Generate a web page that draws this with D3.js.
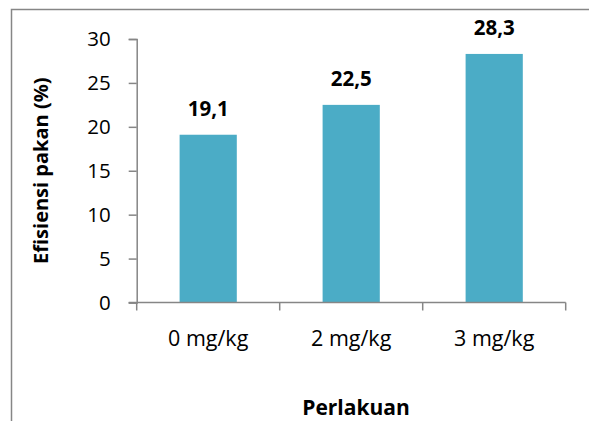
<!DOCTYPE html>
<html>
<head>
<meta charset="utf-8">
<script src="https://cdn.jsdelivr.net/npm/d3@7"></script>
<style>
  body { margin: 0; background: #fff; }
  text { font-family: "Open Sans", sans-serif; }
</style>
</head>
<body>
<svg width="589" height="421"></svg>
<script>
// Chart data
var categories = ["0 mg/kg", "2 mg/kg", "3 mg/kg"];
var values = [19.1, 22.5, 28.3];
var valueLabels = ["19,1", "22,5", "28,3"];
var yTicks = [0, 5, 10, 15, 20, 25, 30];

var svg = d3.select("svg"),
    width = +svg.attr("width"),
    height = +svg.attr("height");

var axisColor = "#868686";

// Outer chart frame (runs off the right and bottom edges)
svg.append("rect")
    .attr("x", 11.5)
    .attr("y", 9.5)
    .attr("width", 600)
    .attr("height", 440)
    .attr("fill", "none")
    .attr("stroke", axisColor)
    .attr("stroke-width", 1.5);

var plot = { left: 136.7, right: 565.7, top: 39, bottom: 302.5 };

var x = d3.scaleBand()
    .domain(categories)
    .range([plot.left, plot.right])
    .paddingInner(0.6)
    .paddingOuter(0.3);

var y = d3.scaleLinear()
    .domain([0, 30])
    .range([plot.bottom, plot.top]);

// Bars
svg.append("g")
  .selectAll("rect")
  .data(values)
  .enter().append("rect")
    .attr("x", function(d, i) { return x(categories[i]); })
    .attr("y", function(d) { return y(d); })
    .attr("width", x.bandwidth())
    .attr("height", function(d) { return y(0) - y(d); })
    .attr("fill", "#4BACC6");

// Y axis
var yAxis = svg.append("g")
    .attr("transform", "translate(" + plot.left + ",0)")
    .call(d3.axisLeft(y).tickValues(yTicks).tickSize(8).tickPadding(18));
yAxis.select(".domain").attr("stroke", axisColor).attr("stroke-width", 1.5);
yAxis.selectAll(".tick line").attr("stroke", axisColor).attr("stroke-width", 1.5);
yAxis.selectAll(".tick text")
    .attr("fill", "#000")
    .style("font-size", "20.5px");

// X axis with ticks at category boundaries
var xAxis = svg.append("g")
    .attr("transform", "translate(0," + plot.bottom + ")");
xAxis.append("line")
    .attr("x1", plot.left - 8).attr("x2", plot.right)
    .attr("stroke", axisColor).attr("stroke-width", 1.5);
var step = (plot.right - plot.left) / categories.length;
xAxis.selectAll(".xtick")
  .data(d3.range(categories.length + 1))
  .enter().append("line")
    .attr("x1", function(i) { return plot.left + i * step; })
    .attr("x2", function(i) { return plot.left + i * step; })
    .attr("y1", 0).attr("y2", 8)
    .attr("stroke", axisColor).attr("stroke-width", 1.5);
xAxis.selectAll(".xlabel")
  .data(categories)
  .enter().append("text")
    .attr("x", function(d) { return x(d) + x.bandwidth() / 2; })
    .attr("y", 43.5)
    .attr("text-anchor", "middle")
    .style("font-size", "21.5px")
    .text(function(d) { return d; });

// Value labels
svg.append("g")
  .selectAll("text")
  .data(values)
  .enter().append("text")
    .attr("x", function(d, i) { return x(categories[i]) + x.bandwidth() / 2; })
    .attr("y", function(d) { return y(d) - 18.5; })
    .attr("text-anchor", "middle")
    .style("font-size", "20.5px")
    .style("font-weight", "bold")
    .text(function(d, i) { return valueLabels[i]; });

// Axis titles
svg.append("text")
    .attr("transform", "translate(48," + ((plot.top + plot.bottom) / 2) + ") rotate(-90)")
    .attr("text-anchor", "middle")
    .style("font-size", "20px")
    .style("font-weight", "bold")
    .text("Efisiensi pakan (%)");

svg.append("text")
    .attr("x", 356)
    .attr("y", 415)
    .attr("text-anchor", "middle")
    .style("font-size", "21px")
    .style("font-weight", "bold")
    .text("Perlakuan");
</script>
</body>
</html>
